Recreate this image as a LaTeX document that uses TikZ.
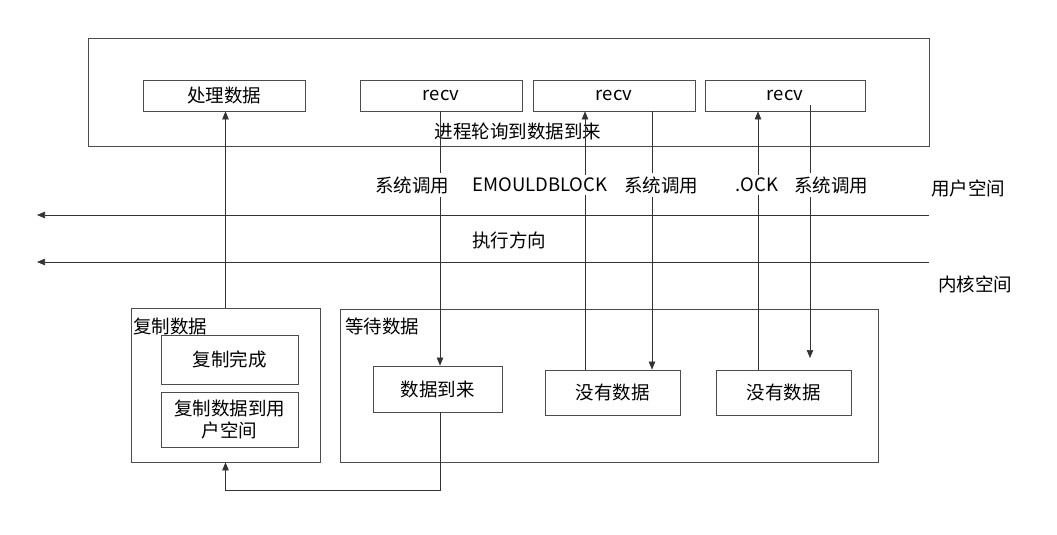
\documentclass[tikz,border=0pt]{standalone}
\usepackage{fontspec}
\setmainfont{Noto Sans CJK SC}
\usetikzlibrary{arrows.meta}
\newcommand\txtsize{\fontsize{18.5}{22}\selectfont}
\begin{document}
\begin{tikzpicture}[x=1pt,y=-1pt,
  frame/.style={draw=black!70, line width=0.8pt},
  rbox/.style={frame, inner sep=0pt, font=\txtsize, align=center},
  plain/.style={inner sep=1pt, font=\txtsize},
  lbl/.style={fill=white, inner sep=3pt, font=\txtsize},
  conn/.style={draw=black!80, line width=0.6pt},
  arr/.style={conn, -{Triangle[length=8pt,width=6.5pt]}}]
\useasboundingbox (0,0) rectangle (1057,535);

% user-space process
\node[rbox, minimum width=841, minimum height=108] (proc) at (508.5,92) {};
\node[rbox, minimum width=162, minimum height=31] (handle) at (224,95.5) {处理数据};
\node[rbox, minimum width=162, minimum height=31] (recvA) at (441,95.5) {recv};
\node[rbox, minimum width=162, minimum height=31] (recvB) at (614,95.5) {recv};
\node[rbox, minimum width=160, minimum height=31] (recvC) at (785,95.5) {recv};
\node[plain] (poll) at (518,131) {进程轮询到数据到来};

% kernel: copy stage
\node[rbox, minimum width=189, minimum height=154] (copy) at (225.5,385) {};
\node[plain, anchor=west] (copylbl) at (132,326) {复制数据};
\node[rbox, minimum width=137, minimum height=49] (done) at (229.5,359.5) {复制完成};
\node[rbox, minimum width=137, minimum height=55] (tous) at (229.5,419.5) {复制数据到用\\户空间};

% kernel: wait stage
\node[rbox, minimum width=538, minimum height=153] (wait) at (609,385.5) {};
\node[plain, anchor=west] (waitlbl) at (344,326) {等待数据};
\node[rbox, minimum width=129, minimum height=46] (arrive) at (437.5,389) {数据到来};
\node[rbox, minimum width=135, minimum height=45] (noneA) at (612.5,392.5) {没有数据};
\node[rbox, minimum width=135, minimum height=45] (noneB) at (783.5,392.5) {没有数据};

% execution direction
\coordinate (uR) at (929,215);
\coordinate (uL) at (37,215);
\coordinate (kR) at (929,262);
\coordinate (kL) at (37,262);
\draw[arr] (uR) -- (uL);
\draw[arr] (kR) -- (kL);
\node[plain] (dir) at (509,240) {执行方向};
\node[plain] (user) at (968,188) {用户空间};
\node[plain] (kern) at (975,284) {内核空间};

% vertical tracks
\coordinate (xA) at (440,0);
\coordinate (xB) at (585,0);
\coordinate (xC) at (652,0);
\coordinate (xD) at (758,0);
\coordinate (xE) at (810,0);
\coordinate (eStart) at (810,105);
\coordinate (eEnd) at (810,358);
\coordinate (turn) at (440,490);

\draw[arr] (copy.north) -- (copy.north |- handle.south);
\draw[arr] (recvA.south -| xA) -- (arrive.north -| xA);
\draw[arr] (noneA.north -| xB) -- (recvB.south -| xB);
\draw[arr] (recvB.south -| xC) -- (noneA.north -| xC);
\draw[arr] (noneB.north -| xD) -- (recvC.south -| xD);
\draw[arr] (eStart) -- (eEnd);
\draw[arr] (arrive.south -| xA) -- (turn) -| (copy.south);

% labels on the tracks
\node[lbl] (callA) at (412,185) {系统调用};
\node[lbl] (blockA) at (540,185) {EMOULDBLOCK};
\node[lbl] (callB) at (661,185) {系统调用};
\node[lbl] (blockB) at (757,185) {.OCK};
\node[lbl] (callC) at (831,185) {系统调用};
\end{tikzpicture}
\end{document}
